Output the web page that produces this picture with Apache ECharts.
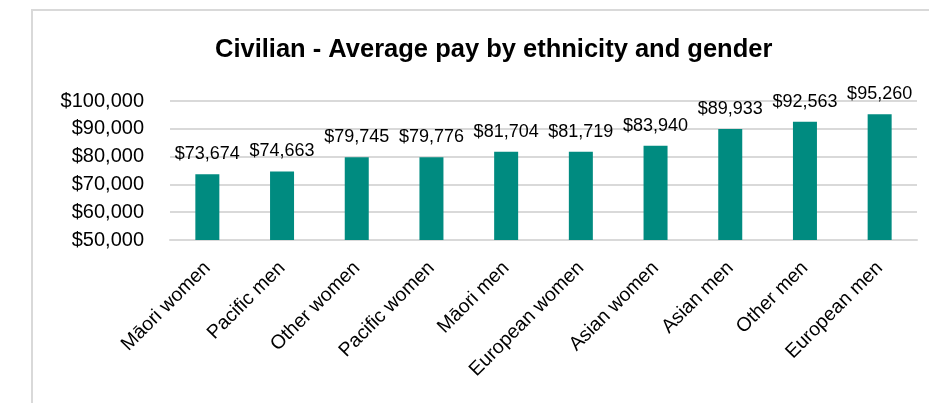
<!DOCTYPE html>
<html>
<head>
<meta charset="utf-8">
<script src="https://cdn.jsdelivr.net/npm/echarts@6/dist/echarts.min.js"></script>
<style>html,body{margin:0;padding:0;background:#fff;}#c{width:929px;height:403px;}</style>
</head>
<body>
<div id="c"></div>
<script>
const categories = ["Māori women","Pacific men","Other women","Pacific women","Māori men","European women","Asian women","Asian men","Other men","European men"];
const payValues = [73674,74663,79745,79776,81704,81719,83940,89933,92563,95260];
const yTicks = {min:50000, max:100000, interval:10000};
const titleText = "Civilian - Average pay by ethnicity and gender";

const fmt = v => "$" + Number(v).toLocaleString("en-US");
const FONT = "'Liberation Sans', Arial, sans-serif";
const chart = echarts.init(document.getElementById('c'), null, {renderer:'canvas'});
chart.setOption({
  animation:false,
  backgroundColor:'#fff',
  title:{text:titleText, left:210, top:32, textStyle:{fontFamily:FONT, fontSize:25.5, fontWeight:'bold', color:'#000'}},
  graphic:[{type:'rect', shape:{x:32,y:10,width:1000,height:500}, style:{fill:'none', stroke:'#d9d9d9', lineWidth:2}, silent:true}],
  grid:{left:170, right:12, top:101, bottom:163, containLabel:false},
  xAxis:{type:'category', data:categories,
    axisLine:{lineStyle:{color:'#d9d9d9', width:2}}, axisTick:{show:false},
    axisLabel:{rotate:45, interval:0, margin:25, fontFamily:FONT, fontSize:19.5, color:'#000'}},
  yAxis:{type:'value', min:yTicks.min, max:yTicks.max, interval:yTicks.interval,
    axisLine:{show:false}, axisTick:{show:false},
    splitLine:{lineStyle:{color:'#d9d9d9', width:2}},
    axisLabel:{formatter:fmt, margin:26, fontFamily:FONT, fontSize:20, color:'#000'}},
  series:[{type:'bar', data:payValues, barWidth:24, itemStyle:{color:'#008b80'},
    label:{show:true, position:'top', distance:11, formatter:p=>fmt(p.value), fontFamily:FONT, fontSize:18, color:'#000'}}]
});
</script>
</body>
</html>
